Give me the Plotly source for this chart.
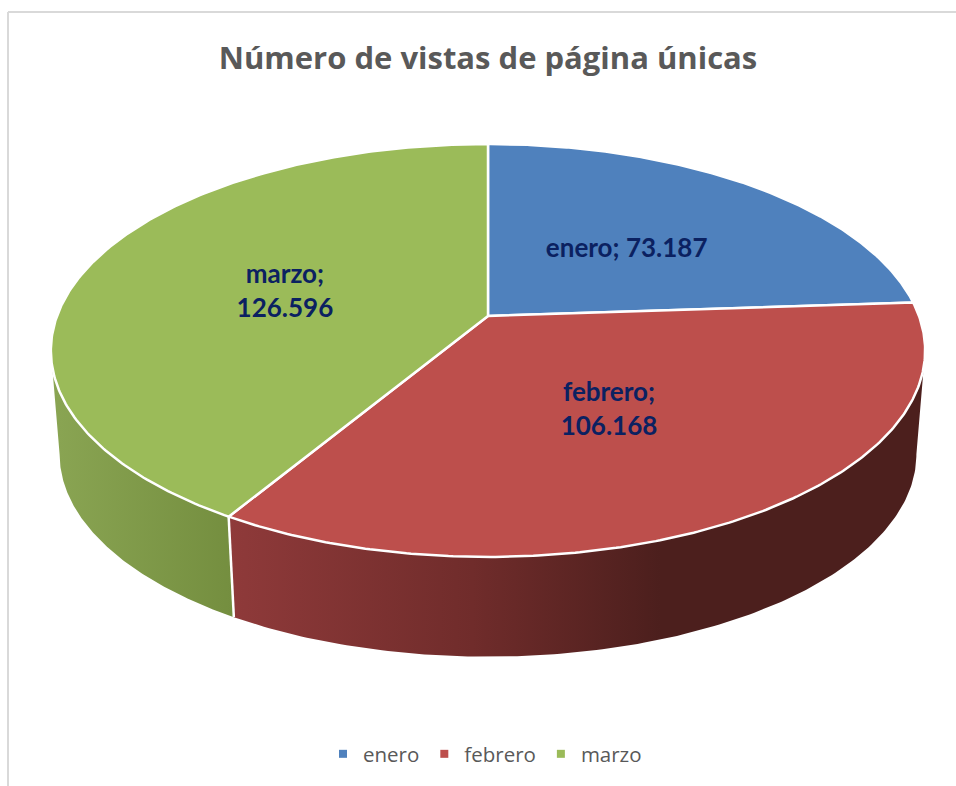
import numpy as np
import plotly.graph_objects as go

# Data
categories = ["enero", "febrero", "marzo"]
values = [73187, 106168, 126596]
title_text = "Número de vistas de página únicas"
top_colors = ["#4f81bd", "#bd4f4c", "#9bbb59"]
side_stops = {
    "febrero": [(0.0, "#8f3a3a"), (0.35, "#702c2b"), (0.62, "#4c1f1d"), (1.0, "#4c1f1d")],
    "marzo": [(0.0, "#8aa553"), (1.0, "#748e3f")],
}

# Geometry of the tilted disc (perspective projection of a unit circle)
CX, CY = 488.0, 316.0
A, B, K = 431.0, 200.7, 0.167
DROP, SHRINK = 104.5, 0.98
LABEL_DY = 3.5
W, H = 956, 786


def top_xy(theta, r=1.0):
    u, v = r * np.sin(theta), r * np.cos(theta)
    w = 1 + K * v
    return CX + A * u / w, CY - B * v / w


def bottom_xy(theta):
    u, v = np.sin(theta), np.cos(theta)
    w = 1 + K * v
    return CX + SHRINK * A * u / w, CY + DROP - SHRINK * B * v / w


total = sum(values)
edges = 2 * np.pi * np.cumsum([0] + values) / total
vis_lo, vis_hi = np.arccos(-K), 2 * np.pi - np.arccos(-K)

fig = go.Figure()

# Sides (only the front, visible part of each slice)
for i, cat in enumerate(categories):
    lo, hi = max(edges[i], vis_lo), min(edges[i + 1], vis_hi)
    if lo >= hi:
        continue
    t = np.linspace(lo, hi, 160)
    xt, yt = top_xy(t)
    xb, yb = bottom_xy(t)
    x = np.r_[xt, xb[::-1], xt[0]]
    y = np.r_[yt, yb[::-1], yt[0]]
    fig.add_trace(go.Scatter(
        x=x, y=y, mode="lines", line=dict(width=0), showlegend=False, hoverinfo="skip",
        fill="toself",
        fillgradient=dict(type="horizontal", start=float(x.min()), stop=float(x.max()),
                          colorscale=[[a, c] for a, c in side_stops[cat]]),
    ))

# White seam on the side where two slices meet
for e in edges[1:-1]:
    if vis_lo < e < vis_hi:
        xt, yt = top_xy(e)
        xb, yb = bottom_xy(e)
        fig.add_trace(go.Scatter(x=[xt, xb], y=[yt, yb], mode="lines",
                                 line=dict(color="white", width=2.5),
                                 showlegend=False, hoverinfo="skip"))

# Top faces
for i, cat in enumerate(categories):
    t = np.linspace(edges[i], edges[i + 1], 240)
    xt, yt = top_xy(t)
    fig.add_trace(go.Scatter(
        x=np.r_[CX, xt, CX], y=np.r_[CY, yt, CY], mode="lines", fill="toself",
        fillcolor=top_colors[i], line=dict(color="white", width=2.5),
        showlegend=False, name=cat, hoverinfo="skip",
    ))

# Data labels
mids = (edges[:-1] + edges[1:]) / 2
lx, ly = top_xy(mids, 0.5)
labels = [f"{c};{'<br>' if v >= 100000 else ' '}{v:,}".replace(",", ".")
          for c, v in zip(categories, values)]
fig.add_trace(go.Scatter(x=lx, y=ly + LABEL_DY, mode="text", text=labels, textposition="middle center",
                         textfont=dict(family="Lato", size=26, color="#0b2161", weight="bold"),
                         showlegend=False, hoverinfo="skip"))

# Legend entries
for c, col in zip(categories, top_colors):
    fig.add_trace(go.Scatter(x=[None], y=[None], mode="markers", name=c,
                             marker=dict(symbol="square", size=8, color=col)))

fig.update_layout(
    width=W, height=H, autosize=False,
    margin=dict(l=0, r=0, t=0, b=0),
    paper_bgcolor="white", plot_bgcolor="white",
    title=dict(text=title_text, x=488 / W, xanchor="center", y=1 - 58 / H, yanchor="middle",
               font=dict(family="Open Sans", size=31, color="#595959", weight="bold")),
    xaxis=dict(range=[0, W], visible=False, fixedrange=True),
    yaxis=dict(range=[H, 0], visible=False, fixedrange=True),
    legend=dict(orientation="h", x=485 / W, xanchor="center", y=1 - 754 / H, yanchor="middle",
                font=dict(family="Open Sans", size=20.5, color="#595959"),
                bgcolor="rgba(0,0,0,0)"),
    shapes=[
        dict(type="line", x0=8, x1=8, y0=12, y1=H, line=dict(color="#d9d9d9", width=2)),
        dict(type="line", x0=8, x1=W, y0=12, y1=12, line=dict(color="#d9d9d9", width=2)),
    ],
)

fig.write_html("out.html", config=dict(displayModeBar=False),
               post_script="document.body.style.margin='0';")
